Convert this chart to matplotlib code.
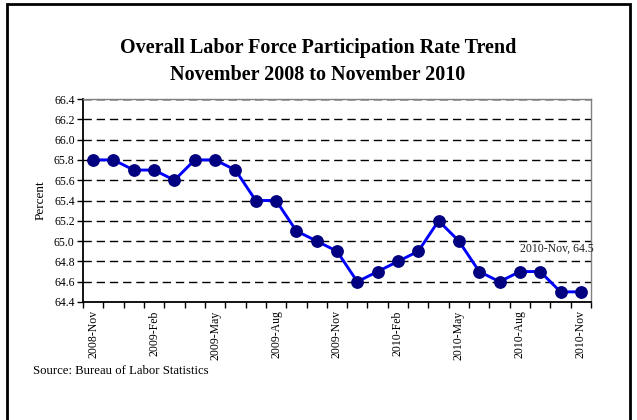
import matplotlib
matplotlib.use("Agg")
import matplotlib.pyplot as plt
from matplotlib.patches import Rectangle

months = ["2008-Nov", "2008-Dec", "2009-Jan", "2009-Feb", "2009-Mar", "2009-Apr",
          "2009-May", "2009-Jun", "2009-Jul", "2009-Aug", "2009-Sep", "2009-Oct",
          "2009-Nov", "2009-Dec", "2010-Jan", "2010-Feb", "2010-Mar", "2010-Apr",
          "2010-May", "2010-Jun", "2010-Jul", "2010-Aug", "2010-Sep", "2010-Oct",
          "2010-Nov"]
rate = [65.8, 65.8, 65.7, 65.7, 65.6, 65.8, 65.8, 65.7, 65.4, 65.4, 65.1, 65.0,
        64.9, 64.6, 64.7, 64.8, 64.9, 65.2, 65.0, 64.7, 64.6, 64.7, 64.7, 64.5,
        64.5]
yticks = [64.4, 64.6, 64.8, 65.0, 65.2, 65.4, 65.6, 65.8, 66.0, 66.2, 66.4]

plt.rcParams['font.family'] = ['Liberation Serif', 'DejaVu Serif']

fig = plt.figure(figsize=(6.37, 4.2), dpi=100)
W, H = 637, 420
ax = fig.add_axes([83 / W, 1 - 302 / H, (591 - 83) / W, (302 - 99) / H])

x = list(range(len(months)))
ax.plot(x, rate, color='#0000FF', lw=2.1, marker='o', markersize=8.2,
        markerfacecolor='#000080', markeredgecolor='#000080', zorder=3)

ax.set_xlim(-0.5, len(months) - 0.5)
ax.set_ylim(64.4, 66.4)
ax.set_yticks(yticks)
ax.set_yticklabels([f"{v:.1f}" for v in yticks], fontsize=8.5)
ax.set_xticks([i for i in x if i % 3 == 0])
ax.set_xticklabels([months[i] for i in x if i % 3 == 0], rotation=90, fontsize=8.5)
ax.set_xticks([i - 0.5 for i in range(len(months) + 1)], minor=True)
ax.tick_params(axis='x', which='major', length=0, pad=6)
ax.tick_params(axis='x', which='minor', length=4, width=1, direction='out')
ax.tick_params(axis='y', length=4, width=1, direction='out', pad=2)

for v in yticks[1:]:
    ax.axhline(v, color='black', lw=1, ls=(0, (6, 3.5)), zorder=1)

for s in ['left', 'bottom']:
    ax.spines[s].set_color('black')
    ax.spines[s].set_linewidth(1.3)
for s in ['top', 'right']:
    ax.spines[s].set_color('#808080')
    ax.spines[s].set_linewidth(1)
ax.axhline(66.4, color='black', lw=1, ls=(0, (6, 3.5)), zorder=2)

ax.set_ylabel("Percent", fontsize=9.5, labelpad=5)

ax.text(len(months) - 0.38, 64.92, f"{months[-1]}, {rate[-1]}", ha='right',
        va='center', fontsize=8.5, color='#222222')

fig.text(318 / W, 1 - 61.5 / H, "Overall Labor Force Participation Rate Trend\nNovember 2008 to November 2010",
         ha='center', va='center', fontsize=14.5, fontweight='bold', linespacing=1.5)

fig.text(33 / W, 1 - 371 / H, "Source: Bureau of Labor Statistics", ha='left',
         va='center', fontsize=9.2)

fig.add_artist(Rectangle((7 / W, -0.1), (630 - 7) / W, 1.1 - 4 / H,
                         transform=fig.transFigure, fill=False, edgecolor='black', lw=2))

fig.savefig("out.png", dpi=100)
